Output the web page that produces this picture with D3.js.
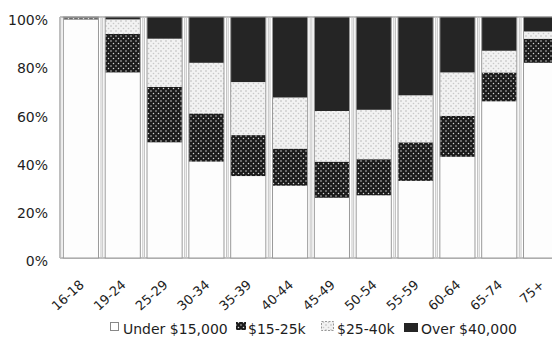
<!DOCTYPE html>
<html>
<head>
<meta charset="utf-8">
<script src="https://cdn.jsdelivr.net/npm/d3@7"></script>
<style>
  html, body { margin: 0; padding: 0; background: #fff; }
  svg { display: block; }
  text { font-family: "DejaVu Sans", Verdana, sans-serif; fill: #1e1e1e; }
</style>
</head>
<body>
<svg id="chart" width="552" height="337"></svg>
<script>
// ---- data ----
const categories = ["16-18","19-24","25-29","30-34","35-39","40-44","45-49","50-54","55-59","60-64","65-74","75+"];
const seriesNames = ["Under $15,000", "$15-25k", "$25-40k", "Over $40,000"];
const under15  = [99, 77, 48, 40, 34, 30, 25, 26, 32, 42, 65, 81];
const k15to25  = [0.5, 16, 23, 20, 17, 15.4, 15, 15, 16, 17, 12, 10];
const k25to40  = [0.3, 6, 20, 21, 22, 21.2, 21, 20.5, 19.5, 18, 9, 3];
const over40   = [0.2, 1, 9, 19, 27, 33.4, 39, 38.5, 32.5, 23, 14, 6];
const yTicks = [0, 20, 40, 60, 80, 100];

const rows = categories.map((c, i) => ({
  cat: c,
  [seriesNames[0]]: under15[i],
  [seriesNames[1]]: k15to25[i],
  [seriesNames[2]]: k25to40[i],
  [seriesNames[3]]: over40[i]
}));

const svg = d3.select("#chart");

// ---- patterns ----
const defs = svg.append("defs");
const pDark = defs.append("pattern").attr("id", "pDark").attr("patternUnits", "userSpaceOnUse")
  .attr("width", 5).attr("height", 5);
pDark.append("rect").attr("width", 5).attr("height", 5).attr("fill", "#1c1c1c");
pDark.append("circle").attr("cx", 1).attr("cy", 1).attr("r", 0.75).attr("fill", "#d8d8d8");
pDark.append("circle").attr("cx", 3.5).attr("cy", 3.5).attr("r", 0.75).attr("fill", "#d8d8d8");

const pLight = defs.append("pattern").attr("id", "pLight").attr("patternUnits", "userSpaceOnUse")
  .attr("width", 5).attr("height", 5);
pLight.append("rect").attr("width", 5).attr("height", 5).attr("fill", "#f2f2f2");
pLight.append("circle").attr("cx", 1).attr("cy", 1).attr("r", 0.8).attr("fill", "#b8b8b8");
pLight.append("circle").attr("cx", 3.5).attr("cy", 3.5).attr("r", 0.8).attr("fill", "#c8c8c8");

const fills = {
  [seriesNames[0]]: "#fdfdfd",
  [seriesNames[1]]: "url(#pDark)",
  [seriesNames[2]]: "url(#pLight)",
  [seriesNames[3]]: "#252525"
};

// ---- scales ----
const x = d3.scaleBand().domain(categories).range([60, 562]).paddingInner(0.16).paddingOuter(0.08);
const y = d3.scaleLinear().domain([0, 100]).range([258, 17]);

// frame lines
svg.append("line").attr("x1", 60).attr("x2", 552).attr("y1", y(100)).attr("y2", y(100))
  .attr("stroke", "#a8a8a8").attr("stroke-width", 1.5);
svg.append("line").attr("x1", 60).attr("x2", 552).attr("y1", y(0)).attr("y2", y(0))
  .attr("stroke", "#a8a8a8").attr("stroke-width", 1.5);
svg.append("line").attr("x1", 60).attr("x2", 60).attr("y1", y(100)).attr("y2", y(0))
  .attr("stroke", "#a8a8a8").attr("stroke-width", 1.5);

// bar shadows / outer outlines
svg.append("g").selectAll("rect").data(categories).join("rect")
  .attr("x", d => x(d) - 2.5).attr("y", y(100)).attr("width", x.bandwidth() + 5)
  .attr("height", y(0) - y(100))
  .attr("fill", "none").attr("stroke", "#c4c4c4").attr("stroke-width", 1);

// ---- stacked bars ----
const stack = d3.stack().keys(seriesNames);
const layers = stack(rows);

svg.append("g").selectAll("g").data(layers).join("g")
  .attr("fill", d => fills[d.key])
  .selectAll("rect").data(d => d).join("rect")
  .attr("x", d => x(d.data.cat))
  .attr("y", d => y(d[1]))
  .attr("width", x.bandwidth())
  .attr("height", d => y(d[0]) - y(d[1]));

// inner outlines
svg.append("g").selectAll("rect").data(categories).join("rect")
  .attr("x", d => x(d)).attr("y", y(100)).attr("width", x.bandwidth())
  .attr("height", y(0) - y(100))
  .attr("fill", "none").attr("stroke", "#9a9a9a").attr("stroke-width", 1);

// ---- y axis labels ----
const yAxis = d3.axisLeft(y).tickValues(yTicks).tickFormat(d => d + "%").tickSize(0).tickPadding(12);
const gy = svg.append("g").attr("transform", "translate(60,0)").call(yAxis);
gy.select(".domain").remove();
gy.selectAll("text").attr("font-size", 14).attr("font-family", "DejaVu Sans, sans-serif")
  .attr("fill", "#1e1e1e").attr("dy", "0.55em");

// ---- x axis labels ----
const xAxis = d3.axisBottom(x).tickSize(0).tickPadding(0);
const gx = svg.append("g").attr("transform", "translate(0," + y(0) + ")").call(xAxis);
gx.select(".domain").remove();
gx.selectAll("text")
  .attr("font-size", 13).attr("font-family", "DejaVu Sans, sans-serif").attr("fill", "#1e1e1e")
  .attr("text-anchor", "end")
  .attr("dy", 0).attr("y", 0).attr("x", 0)
  .attr("transform", "translate(4,28) rotate(-42)");

// ---- legend ----
const legend = svg.append("g").attr("transform", "translate(0,334)");
const iconX = [110, 236, 321, 404];
const textX = [123, 248, 337, 421];
seriesNames.forEach((name, i) => {
  const g = legend.append("g");
  if (i === 0) {
    g.append("rect").attr("x", iconX[i] + 0.5).attr("y", -11.5).attr("width", 8).attr("height", 8)
      .attr("fill", "#fff").attr("stroke", "#888");
  } else if (i === 1) {
    g.append("rect").attr("x", iconX[i]).attr("y", -12).attr("width", 10).attr("height", 8)
      .attr("fill", fills[name]);
  } else if (i === 2) {
    g.append("rect").attr("x", iconX[i] + 0.5).attr("y", -12.5).attr("width", 12).attr("height", 9)
      .attr("fill", fills[name]).attr("stroke", "#999").attr("stroke-dasharray", "2,1.5");
  } else {
    g.append("rect").attr("x", iconX[i]).attr("y", -11).attr("width", 14).attr("height", 9)
      .attr("fill", fills[name]);
  }
  g.append("text").attr("x", textX[i]).attr("y", 0).attr("font-size", 14).text(name);
});
</script>
</body>
</html>
